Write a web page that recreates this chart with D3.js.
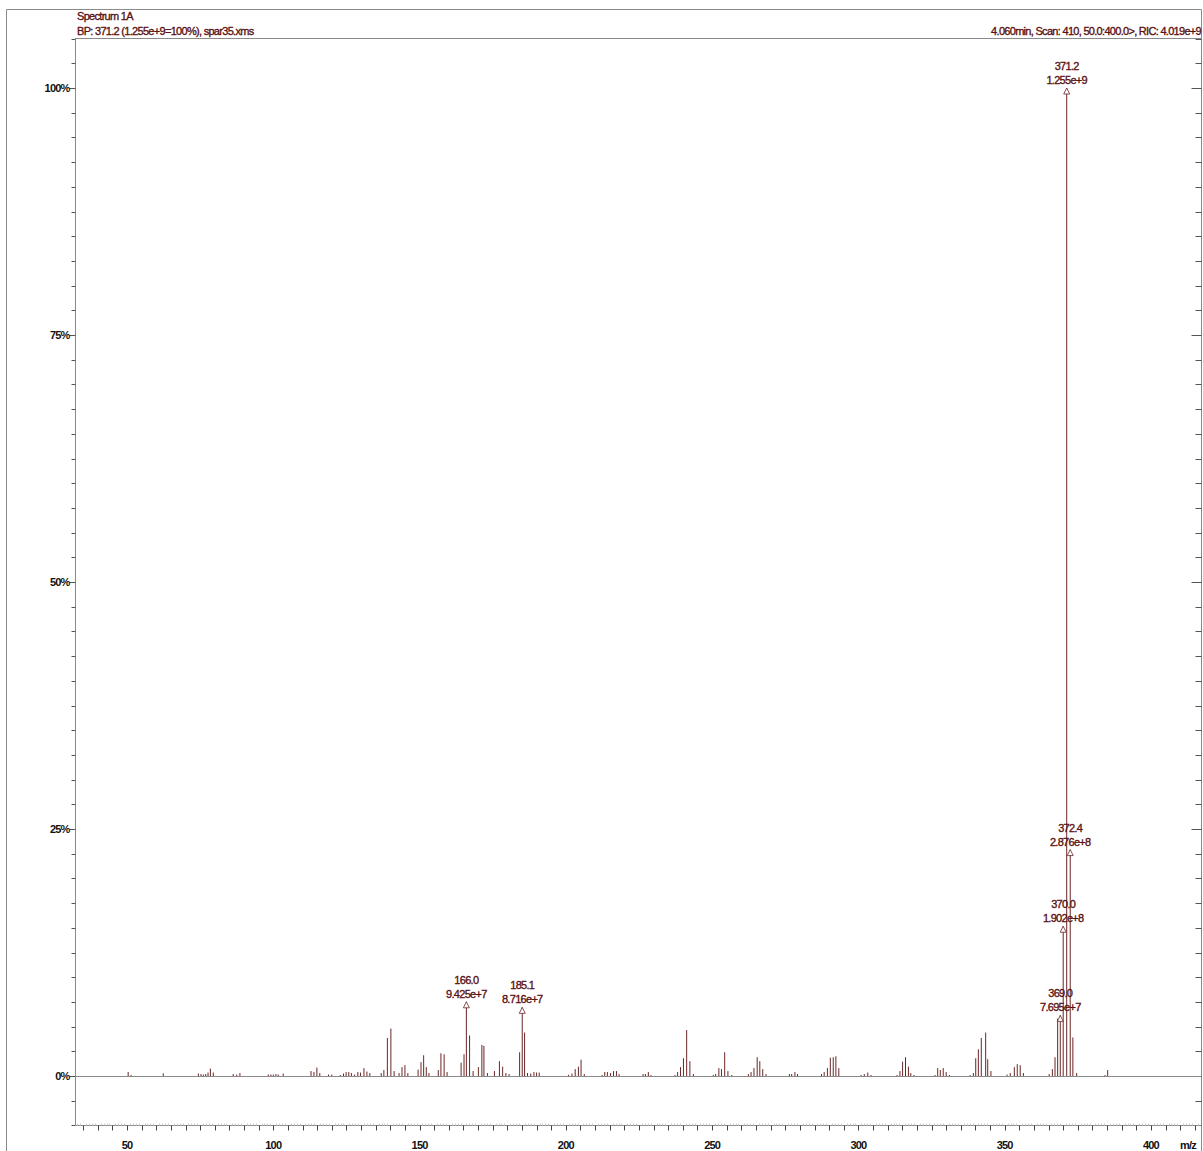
<!DOCTYPE html>
<html>
<head>
<meta charset="utf-8">
<script src="https://cdn.jsdelivr.net/npm/d3@7"></script>
<style>
  body { margin: 0; background: #fff; }
  svg { display: block; }
  text { font-family: "Liberation Sans", Arial, sans-serif; }
</style>
</head>
<body>
<svg id="chart" width="1203" height="1151"></svg>
<script>
// Header text
const titleLines = ["Spectrum 1A", "BP: 371.2 (1.255e+9=100%), spar35.xms"];
const scanInfo = "4.060min, Scan: 410, 50.0:400.0>, RIC: 4.019e+9";
const xAxisTitle = "m/z";

// Base peak absolute intensity (counts) = 100 %
const basePeakCounts = 1.255e9;

// Annotated peaks: m/z and absolute counts
const labelMz = [166.0, 185.1, 369.0, 370.0, 371.2, 372.4];
const labelCounts = [9.425e7, 8.716e7, 7.695e7, 1.902e8, 1.255e9, 2.876e8];
const labelCountText = ["9.425e+7", "8.716e+7", "7.695e+7", "1.902e+8", "1.255e+9", "2.876e+8"];

// Remaining centroid peaks: m/z and relative abundance (%)
const peakMz = [
  50.4, 51.4, 62.4, 74.4, 75.3, 76.1, 76.9, 77.7, 78.5, 79.5,
  86.3, 87.5, 88.6, 98.3, 99.2, 100.0, 100.9, 101.7, 103.4,
  112.9, 113.9, 114.9, 115.9, 118.9, 120.0, 122.9, 124.0, 124.9, 125.8,
  126.7, 127.8, 128.9, 129.8, 131.0, 132.0, 133.0, 136.9, 137.8, 139.0,
  140.2, 141.3, 143.0, 144.0, 145.0, 146.0, 149.5, 150.5, 151.4, 152.3,
  153.2, 156.4, 157.3, 158.4, 159.4, 164.2, 165.2, 167.1, 168.3, 170.1,
  171.3, 172.0, 173.2, 175.6, 177.3, 178.4, 179.5, 180.6, 184.2, 185.9,
  186.9, 188.0, 189.1, 190.0, 190.9, 200.9, 202.1, 203.2, 204.3, 205.2,
  206.3, 212.4, 213.3, 214.2, 215.3, 216.3, 217.3, 218.2, 226.4, 227.2,
  228.2, 229.1, 237.3, 238.2, 239.2, 240.2, 241.3, 242.4, 243.6, 250.4,
  251.2, 252.3, 253.2, 254.3, 255.4, 256.7, 262.4, 263.3, 264.3, 265.4,
  266.3, 267.3, 268.4, 276.4, 277.2, 278.3, 279.2, 287.4, 288.3, 289.4,
  290.4, 291.4, 292.3, 293.3, 300.9, 302.0, 303.2, 304.3, 313.2, 314.2,
  315.1, 316.1, 317.1, 317.9, 319.0, 326.2, 327.1, 328.0, 329.0, 330.0,
  331.1, 338.2, 339.3, 340.1, 341.0, 342.0, 343.5, 344.2, 345.3, 350.8,
  351.9, 353.3, 354.3, 355.3, 356.4, 365.2, 366.3, 367.2, 368.1, 373.3,
  374.6, 384.3, 385.2
];
const peakPct = [
  0.4, 0.1, 0.27, 0.25, 0.2, 0.15, 0.2, 0.35, 0.75, 0.35,
  0.2, 0.15, 0.3, 0.15, 0.15, 0.15, 0.2, 0.15, 0.25,
  0.5, 0.4, 0.85, 0.3, 0.15, 0.15, 0.1, 0.25, 0.4, 0.4,
  0.3, 0.15, 0.4, 0.35, 0.8, 0.45, 0.3, 0.3, 0.6, 3.85,
  4.8, 0.5, 0.3, 0.9, 1.1, 0.3, 0.65, 1.4, 2.1, 0.9,
  0.3, 0.6, 2.3, 2.2, 0.4, 1.35, 2.2, 4.1, 0.5, 0.9,
  3.15, 3.05, 0.3, 0.5, 1.5, 0.95, 0.3, 0.2, 2.4, 4.4,
  0.3, 0.25, 0.4, 0.35, 0.35, 0.12, 0.25, 0.7, 0.95, 1.65,
  0.2, 0.1, 0.4, 0.4, 0.3, 0.5, 0.5, 0.2, 0.2, 0.2,
  0.4, 0.1, 0.1, 0.4, 0.9, 1.8, 4.65, 1.5, 0.2, 0.1,
  0.2, 0.8, 0.7, 2.4, 0.5, 0.1, 0.2, 0.4, 0.8, 1.9,
  1.5, 0.7, 0.2, 0.2, 0.2, 0.4, 0.2, 0.2, 0.4, 0.8,
  1.85, 1.9, 2.0, 0.8, 0.1, 0.2, 0.35, 0.1, 0.1, 0.5,
  1.45, 1.9, 0.95, 0.3, 0.1, 0.1, 0.8, 0.6, 0.8, 0.4,
  0.1, 0.1, 0.3, 1.8, 2.7, 3.85, 4.4, 1.7, 0.5, 0.15,
  0.3, 0.9, 1.2, 1.1, 0.3, 0.2, 0.7, 1.9, 5.8, 3.9,
  0.3, 0.1, 0.6
];

// Axis ticks
const yMajorTicks = [0, 25, 50, 75, 100];
const yTickLabels = ["0%", "25%", "50%", "75%", "100%"];
const xLabelTicks = [50, 100, 150, 200, 250, 300, 350, 400];

const svg = d3.select("#chart");
const frameColor = "#8a8a8a";
const peakColor = "#6b2626";
const textRed = "#5a1212";

const plot = { left: 75, right: 1201, top: 38, bottom: 1125 };

const x = d3.scaleLinear().domain([32.23, 417.1]).range([plot.left, plot.right]);
const y = d3.scaleLinear().domain([-5, 105]).range([1125.4, 38.6]);

// Outer frame
svg.append("path")
  .attr("d", `M6.5,1160 V9.5 H1201.5 V1160`)
  .attr("fill", "none").attr("stroke", frameColor).attr("stroke-width", 1);

// Header separator
svg.append("line")
  .attr("x1", plot.left).attr("x2", plot.right + 1)
  .attr("y1", plot.top + 0.5).attr("y2", plot.top + 0.5)
  .attr("stroke", frameColor);

// Red annotation text gets a hairline outline so it reads slightly heavier
function heavy(sel) {
  return sel.attr("fill", textRed).attr("stroke", textRed)
    .attr("stroke-width", 0.35).attr("paint-order", "stroke");
}

// Header text
const hdr = svg.append("g").attr("font-size", 11).attr("letter-spacing", "-0.7px");
heavy(hdr.append("text").attr("x", 77).attr("y", 20).text(titleLines[0]));
heavy(hdr.append("text").attr("x", 77).attr("y", 35).text(titleLines[1]));
heavy(hdr.append("text").attr("x", 1201).attr("y", 35).attr("text-anchor", "end").text(scanInfo));

// Left y axis
const yMinor = d3.range(-5, 105.01, 2.5);
const yAxisL = svg.append("g").attr("transform", `translate(${plot.left + 0.5},0)`);
yAxisL.append("line").attr("y1", plot.top).attr("y2", plot.bottom).attr("stroke", frameColor);
yAxisL.selectAll("line.tick").data(yMinor).join("line")
  .attr("class", "tick")
  .attr("x1", d => yMajorTicks.includes(d) ? -6 : -4).attr("x2", 0)
  .attr("y1", d => Math.round(y(d)) + 0.5).attr("y2", d => Math.round(y(d)) + 0.5)
  .attr("stroke", "#555");
yAxisL.selectAll("text").data(yMajorTicks).join("text")
  .attr("x", -6).attr("y", d => y(d) + 4)
  .attr("text-anchor", "end").attr("font-size", 11).attr("letter-spacing", "-0.8px")
  .attr("font-weight", "bold").attr("fill", "#111")
  .text((d, i) => yTickLabels[i]);

// Right y axis
const yAxisR = svg.append("g").attr("transform", `translate(${plot.right + 0.5},0)`);
yAxisR.selectAll("line.tick").data(yMinor).join("line")
  .attr("class", "tick")
  .attr("x1", d => yMajorTicks.includes(d) ? -10 : -6).attr("x2", 0)
  .attr("y1", d => Math.round(y(d)) + 0.5).attr("y2", d => Math.round(y(d)) + 0.5)
  .attr("stroke", "#555");

// Zero line
svg.append("line")
  .attr("x1", plot.left).attr("x2", plot.right)
  .attr("y1", Math.round(y(0)) + 0.5).attr("y2", Math.round(y(0)) + 0.5)
  .attr("stroke", frameColor);

// Bottom x axis
const xAxis = svg.append("g").attr("transform", `translate(0,${plot.bottom + 0.5})`);
xAxis.append("line").attr("x1", plot.left).attr("x2", plot.right).attr("stroke", frameColor);
const xMinor = d3.range(35, 417, 5);
xAxis.selectAll("line.tick").data(xMinor).join("line")
  .attr("class", "tick")
  .attr("x1", d => Math.round(x(d)) + 0.5).attr("x2", d => Math.round(x(d)) + 0.5)
  .attr("y1", 0).attr("y2", 5).attr("stroke", "#444");
const xFine = d3.range(33, 417, 1).filter(d => d % 5 !== 0);
xAxis.selectAll("line.fine").data(xFine).join("line")
  .attr("class", "fine")
  .attr("x1", d => Math.round(x(d)) + 0.5).attr("x2", d => Math.round(x(d)) + 0.5)
  .attr("y1", -2).attr("y2", 0).attr("stroke", "#ccc");
xAxis.selectAll("text").data(xLabelTicks).join("text")
  .attr("x", d => x(d)).attr("y", 23)
  .attr("text-anchor", "middle").attr("font-size", 11).attr("letter-spacing", "-0.8px")
  .attr("font-weight", "bold").attr("fill", "#111")
  .text(d => d);
xAxis.append("text").attr("x", 1188).attr("y", 23)
  .attr("text-anchor", "middle").attr("font-size", 11).attr("letter-spacing", "-0.8px")
  .attr("font-weight", "bold").attr("fill", "#111").text(xAxisTitle);

// Peaks
const peaks = peakMz.map((m, i) => ({ mz: m, pct: peakPct[i] }))
  .concat(labelMz.map((m, i) => ({ mz: m, pct: labelCounts[i] / basePeakCounts * 100 })));
const y0 = Math.round(y(0));
svg.append("g").selectAll("line").data(peaks).join("line")
  .attr("x1", d => x(d.mz)).attr("x2", d => x(d.mz))
  .attr("y1", y0).attr("y2", d => y(d.pct))
  .attr("stroke", peakColor).attr("stroke-width", 1);

// Peak annotations: open arrowhead + m/z + counts
const ann = svg.append("g").selectAll("g").data(labelMz.map((m, i) => ({
  mz: m, pct: labelCounts[i] / basePeakCounts * 100, txt: labelCountText[i]
}))).join("g")
  .attr("transform", d => `translate(${x(d.mz)},${y(d.pct)})`);
ann.append("path").attr("d", "M0,0 L-3,6 L3,6 Z")
  .attr("fill", "#fff").attr("stroke", peakColor).attr("stroke-width", 0.8);
heavy(ann.append("text").attr("y", -18).attr("text-anchor", "middle")
  .attr("font-size", 11).attr("letter-spacing", "-0.7px"))
  .text(d => d.mz.toFixed(1));
heavy(ann.append("text").attr("y", -4).attr("text-anchor", "middle")
  .attr("font-size", 11).attr("letter-spacing", "-0.7px"))
  .text(d => d.txt);
</script>
</body>
</html>
